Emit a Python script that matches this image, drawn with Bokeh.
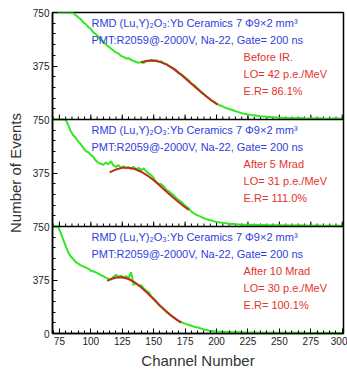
import numpy as np
from bokeh.plotting import figure
from bokeh.models import FixedTicker, Span, Label
from bokeh.embed import file_html
from bokeh.resources import INLINE

# ---------------- data ----------------
CHANNELS = list(range(70, 222, 2)) + list(range(225, 305, 5))

COUNTS_BEFORE = [
    750, 750, 750, 750, 750, 750, 750, 750, 746, 731,
    716, 703, 681, 668, 648, 634, 611, 598, 579, 556,
    546, 524, 512, 497, 484, 470, 462, 446, 439, 428,
    430, 417, 411, 403, 398, 402, 396, 411, 408, 418,
    410, 416, 405, 408, 394, 389, 375, 367, 356, 345,
    322, 318, 301, 289, 274, 252, 244, 226, 210, 192,
    178, 161, 149, 133, 124, 112, 102, 95, 86, 80,
    74, 68, 61, 55, 50, 44,
    36, 29, 23, 19, 15, 13, 11, 9, 10, 8, 7, 9, 7, 6, 8, 6]

COUNTS_5MRAD = [
    750, 750, 750, 750, 750, 748, 712, 668, 640, 622,
    596, 575, 551, 528, 520, 502, 488, 462, 446, 440,
    432, 448, 436, 458, 428, 418, 430, 412, 422, 408,
    415, 404, 418, 400, 412, 395, 408, 388, 372, 360,
    340, 312, 300, 296, 282, 256, 248, 232, 218, 198,
    186, 172, 154, 140, 126, 104, 92, 82, 74, 66,
    58, 52, 46, 42, 36, 32, 29, 27, 24, 22,
    20, 18, 17, 15, 14, 13,
    12, 11, 10, 9, 9, 8, 8, 7, 8, 7, 6, 7, 6, 6, 5, 6]

COUNTS_10MRAD = [
    750, 750, 750, 705, 660, 612, 570, 540, 522, 500,
    490, 478, 470, 462, 455, 440, 436, 428, 420, 408,
    402, 390, 384, 378, 398, 412, 396, 405, 392, 402,
    388, 430, 340, 352, 336, 338, 318, 300, 290, 262,
    246, 226, 200, 186, 168, 152, 138, 124, 112, 98,
    88, 80, 72, 66, 60, 54, 48, 44, 40, 34,
    28, 24, 20, 18, 16, 14, 13, 12, 11, 10,
    10, 9, 9, 8, 8, 8,
    7, 7, 6, 6, 6, 5, 6, 5, 5, 5, 4, 5, 4, 5, 4, 4]

FIT_X_BEFORE = [140, 145, 150, 155, 160, 165, 170, 175, 180, 185, 190, 195, 200, 201]
FIT_Y_BEFORE = [401, 412, 413, 404, 386, 360, 327, 290, 251, 212, 175, 140, 110, 105]

FIT_X_5MRAD = [115, 120, 125, 130, 135, 140, 145, 150, 155, 160, 165, 170, 175, 178]
FIT_Y_5MRAD = [379, 400, 411, 412, 403, 384, 357, 324, 286, 246, 207, 170, 135, 117]

FIT_X_10MRAD = [113, 115, 120, 125, 130, 135, 140, 145, 150, 155, 160, 165, 170, 172]
FIT_Y_10MRAD = [369, 378, 393, 394, 382, 358, 324, 283, 240, 196, 155, 118, 87, 76]

PANEL_TITLE_1 = "RMD (Lu,Y)\u2082O\u2083:Yb Ceramics 7  \u03a69\u00d72 mm\u00b3"
PANEL_TITLE_2 = "PMT:R2059@-2000V, Na-22, Gate= 200 ns"
CONDITIONS = ["Before IR.", "After 5 Mrad", "After 10 Mrad"]
LIGHT_OUTPUT = ["LO= 42 p.e./MeV", "LO= 31 p.e./MeV", "LO= 30 p.e./MeV"]
ENERGY_RES = ["E.R= 86.1%", "E.R= 111.0%", "E.R= 100.1%"]

PANEL_SPAN = 750
Y_MAJOR = [0, 375, 750, 1125, 1500, 1875, 2250]
Y_LABELS = {0: "0", 375: "375", 750: "750", 1125: "375", 1500: "750", 1875: "375", 2250: "750"}
Y_MINOR = list(range(0, 2251, 75))
X_MAJOR = [75, 100, 125, 150, 175, 200, 225, 250, 275, 300]
X_MINOR = list(range(70, 305, 5))

GREEN = "#33e622"
FIT_RED = "#c02a1c"
BLUE = "#3040dd"
RED = "#e4332c"
FONT = "Liberation Sans"

# ---------------- figure ----------------
p = figure(width=347, height=371, x_range=(69.5, 301), y_range=(0, 3 * PANEL_SPAN),
           output_backend="svg", toolbar_location=None,
           min_border_left=52, min_border_right=4, min_border_top=12, min_border_bottom=37)
p.grid.visible = False
p.outline_line_color = "black"
p.outline_line_width = 1.5
p.background_fill_color = "white"
p.border_fill_color = "white"

# axes
p.xaxis.ticker = FixedTicker(ticks=X_MAJOR, minor_ticks=X_MINOR)
p.yaxis.ticker = FixedTicker(ticks=Y_MAJOR, minor_ticks=Y_MINOR)
p.yaxis.major_label_overrides = Y_LABELS
for ax in (p.xaxis[0], p.yaxis[0]):
    ax.axis_line_color = "black"
    ax.axis_line_width = 1.5
    ax.major_tick_in = 5
    ax.major_tick_out = 0
    ax.minor_tick_in = 3
    ax.minor_tick_out = 0
    ax.major_tick_line_color = "black"
    ax.minor_tick_line_color = "black"
    ax.major_label_text_font = FONT
    ax.major_label_text_font_size = "10px"
    ax.major_label_text_color = "#222222"
    ax.axis_label_text_font = FONT
    ax.axis_label_text_font_style = "normal"
    ax.axis_label_text_font_size = "15px"
    ax.axis_label_text_color = "#333333"
p.xaxis.axis_label = "Channel Number"
p.yaxis.axis_label = "Number of Events"
p.xaxis.major_label_standoff = 3
p.xaxis.axis_label_standoff = 4
p.yaxis.major_label_standoff = 3
p.yaxis.axis_label_standoff = 6

# panel separators with inward ticks
for k in (1, 2):
    base = k * PANEL_SPAN
    p.add_layout(Span(location=base, dimension="width", line_color="black", line_width=1.5))
    p.ray(x=X_MAJOR, y=[base] * len(X_MAJOR), length=5, length_units="screen",
          angle=90, angle_units="deg", line_color="black", line_width=1)
    p.ray(x=X_MINOR, y=[base] * len(X_MINOR), length=3, length_units="screen",
          angle=90, angle_units="deg", line_color="black", line_width=1)

panels = [
    (2 * PANEL_SPAN, COUNTS_BEFORE, FIT_X_BEFORE, FIT_Y_BEFORE),
    (1 * PANEL_SPAN, COUNTS_5MRAD, FIT_X_5MRAD, FIT_Y_5MRAD),
    (0, COUNTS_10MRAD, FIT_X_10MRAD, FIT_Y_10MRAD),
]

for i, (base, counts, fx, fy) in enumerate(panels):
    p.line(CHANNELS, base + np.array(counts), line_color=GREEN, line_width=2)
    p.line(fx, base + np.array(fy), line_color=FIT_RED, line_width=2)
    top = base + PANEL_SPAN
    for txt, dy, col, xx in [
        (PANEL_TITLE_1, -10, BLUE, 100.5),
        (PANEL_TITLE_2, -27, BLUE, 100.5),
        (CONDITIONS[i], -44, RED, 221.5),
        (LIGHT_OUTPUT[i], -61, RED, 221.5),
        (ENERGY_RES[i], -78, RED, 221.5),
    ]:
        p.add_layout(Label(x=xx, y=top, y_offset=dy, text=txt, text_color=col,
                           text_font=FONT, text_font_size="11px", text_baseline="middle",
                           text_align="left"))

open("out.html", "w").write(file_html(p, INLINE))
